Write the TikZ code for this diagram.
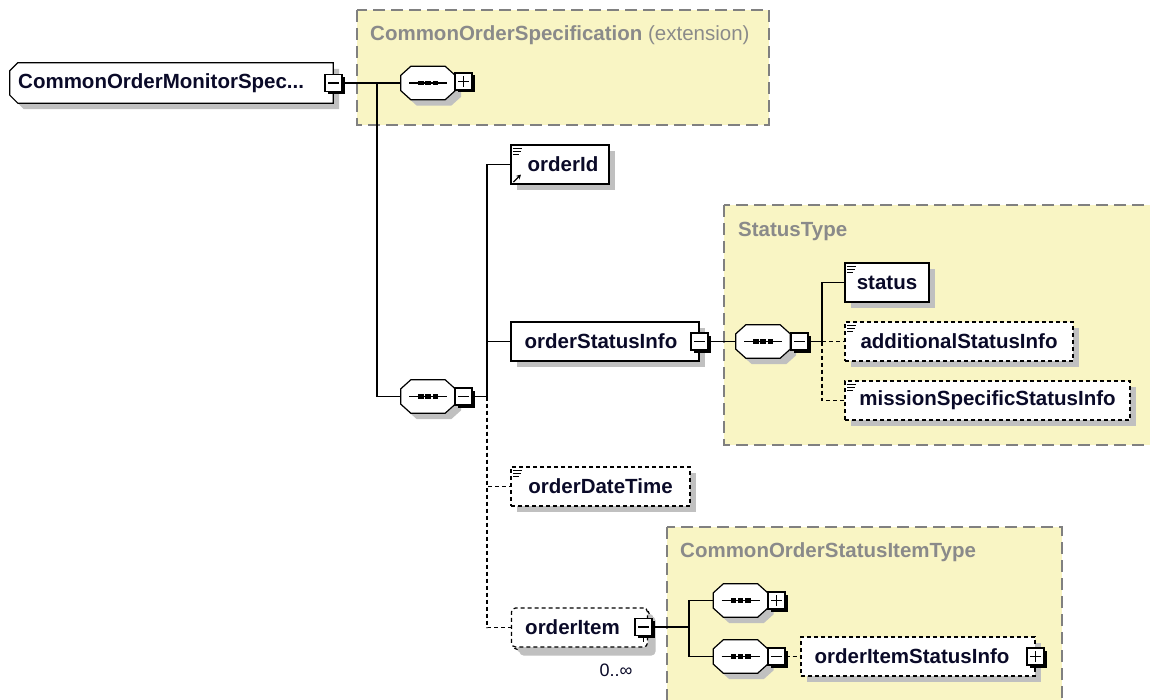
\documentclass[tikz,border=0pt]{standalone}
\usepackage{fontspec}
\setmainfont{Liberation Sans}
\usetikzlibrary{shadows,arrows.meta}
\definecolor{txt}{RGB}{10,10,40}
\definecolor{lbl}{RGB}{138,138,138}
\definecolor{typefill}{RGB}{249,245,196}
\definecolor{shd}{RGB}{192,192,192}
\definecolor{typeline}{RGB}{128,128,128}
\tikzset{
  x=1pt, y=-1pt,
  efont/.style={font=\fontsize{20.5}{24}\selectfont\bfseries},
  lbltext/.style={efont, text=lbl, anchor=west, inner sep=0pt},
  typebox/.style={draw=typeline, fill=typefill, line width=1.5pt, dash pattern=on 12pt off 6pt},
  elem/.style={draw=black, line width=1.2pt, fill=white, minimum height=39pt, inner sep=0pt, efont, text=txt,
    drop shadow={shadow xshift=6pt, shadow yshift=-6pt, fill=shd, opacity=1}},
  optelem/.style={elem, dash pattern=on 4pt off 3pt},
  seqnode/.style={rectangle, draw=none, minimum width=54pt, minimum height=33pt, inner sep=0pt},
  rootnode/.style={rectangle, draw=none, minimum width=323pt, minimum height=40pt, inner sep=0pt, efont, text=txt},
  octline/.style={draw=black, line width=1.2pt, fill=white},
  octshadow/.style={fill=shd},
  pmbox/.style={rectangle, draw=black, line width=1.2pt, fill=white, minimum size=17pt, inner sep=0pt,
    drop shadow={shadow xshift=2.5pt, shadow yshift=-2.5pt, fill=black, opacity=1}},
  minusbox/.style={pmbox, path picture={
      \draw[line width=1.2pt] ([xshift=-5.5pt]path picture bounding box.center) -- ([xshift=5.5pt]path picture bounding box.center);}},
  plusbox/.style={pmbox, path picture={
      \draw[line width=1.2pt] ([xshift=-5.5pt]path picture bounding box.center) -- ([xshift=5.5pt]path picture bounding box.center);
      \draw[line width=1.2pt] ([yshift=-5.5pt]path picture bounding box.center) -- ([yshift=5.5pt]path picture bounding box.center);}},
  conn/.style={line width=1.2pt, draw=black},
  optconn/.style={conn, dash pattern=on 4pt off 3pt},
  iconline/.style={line width=1.1pt},
}
% octagon outline around a node: #1 node, #2 dx, #3 dy
\newcommand{\octpath}[3]{([shift={({#2+10pt},{#3})}]#1.north west) -- ([shift={({#2-10pt},{#3})}]#1.north east)
  -- ([shift={({#2},{#3-9pt})}]#1.north east) -- ([shift={({#2},{#3+9pt})}]#1.south east)
  -- ([shift={({#2-10pt},{#3})}]#1.south east) -- ([shift={({#2+10pt},{#3})}]#1.south west)
  -- ([shift={({#2},{#3+9pt})}]#1.south west) -- ([shift={({#2},{#3-9pt})}]#1.north west) -- cycle}
\newcommand{\seqshape}[1]{%
  \fill[octshadow] \octpath{#1}{6pt}{-6pt};
  \draw[octline] \octpath{#1}{0pt}{0pt};
  \draw[line width=1.4pt] ([xshift=-19pt]#1.center) -- ([xshift=19pt]#1.center);
  \fill ([shift={(-10pt,-2.4pt)}]#1.center) rectangle ([shift={(-4.5pt,2.4pt)}]#1.center);
  \fill ([shift={(-2.7pt,-2.4pt)}]#1.center) rectangle ([shift={(2.7pt,2.4pt)}]#1.center);
  \fill ([shift={(4.5pt,-2.4pt)}]#1.center) rectangle ([shift={(10pt,2.4pt)}]#1.center);}
\newcommand{\rootpath}[3]{([shift={({#2+8pt},{#3})}]#1.north west) -- ([shift={({#2},{#3})}]#1.north east)
  -- ([shift={({#2},{#3})}]#1.south east) -- ([shift={({#2+8pt},{#3})}]#1.south west)
  -- ([shift={({#2},{#3+8pt})}]#1.south west) -- ([shift={({#2},{#3-8pt})}]#1.north west) -- cycle}
\newcommand{\simpleicon}[1]{%
  \draw[iconline] ([shift={(3pt,-4pt)}]#1.north west) -- ++(9pt,0pt);
  \draw[iconline] ([shift={(3pt,-7pt)}]#1.north west) -- ++(8pt,0pt);
  \draw[iconline] ([shift={(3pt,-10pt)}]#1.north west) -- ++(6pt,0pt);}
\begin{document}
\begin{tikzpicture}
\useasboundingbox (0,0) rectangle (1150,700);
\fill[white] (0,0) rectangle (1150,700);

% type boxes
\draw[typebox] (357,10) rectangle (769,125);
\node[lbltext] (extlbl) at (370,35) {CommonOrderSpecification \mdseries(extension)};
\draw[typebox] (724,205) rectangle (1162,445);
\node[lbltext] (stlbl) at (738,231) {StatusType};
\draw[typebox] (667,527) rectangle (1062,712);
\node[lbltext] (cositlbl) at (680,552) {CommonOrderStatusItemType};

% root
\node[rootnode] (root) at (171.5,83) {};
\fill[octshadow] \rootpath{root}{6pt}{-6pt};
\draw[octline] \rootpath{root}{0pt}{0pt};
\node[efont, text=txt, anchor=west, inner sep=0pt] (roottext) at (18,83) {CommonOrderMonitorSpec...};
\node[minusbox] (rootpm) at (333.5,83) {};

% sequences
\node[seqnode] (seq1) at (428,83) {};
\seqshape{seq1}
\node[plusbox] (seq1pm) at (463.5,81.5) {};
\node[seqnode] (seq2) at (428,396.5) {};
\seqshape{seq2}
\node[minusbox] (seq2pm) at (463.5,396.5) {};

% elements of main sequence
\node[elem, minimum width=98pt] (orderId) at (560,164.5) {\hspace*{6pt}orderId};
\simpleicon{orderId}
\draw[line width=1.4pt, -{Stealth[length=4.5pt,width=5pt]}] ([shift={(3pt,2.5pt)}]orderId.south west) -- ++(7.5pt,7.5pt);

\node[elem, minimum width=188pt] (osi) at (605,341.5) {orderStatusInfo\hspace*{8pt}};
\node[minusbox] (osipm) at (699.5,341.5) {};

\node[optelem, minimum width=179pt] (odt) at (600.5,486.5) {orderDateTime};
\simpleicon{odt}

% orderItem (multiple occurrence)
\node[optelem, minimum width=136pt, minimum height=39pt, rounded corners=4pt] (oitemback) at (581.5,630) {};
\node[optelem, minimum width=136pt, minimum height=39pt, rounded corners=4pt, drop shadow={shadow xshift=0pt, shadow yshift=0pt, fill=white, opacity=0}] (oitem) at (579.5,627.5) {orderItem\hspace*{14pt}};
\draw[conn] (643.5,636) -- (643.5,642);
\node[minusbox] (oitempm) at (643.5,627) {};
\node[font=\fontsize{18}{20}\selectfont, text=txt, inner sep=0pt] (occ) at (616,670) {0..∞};

% StatusType content
\node[seqnode] (seq3) at (763,341.5) {};
\seqshape{seq3}
\node[minusbox] (seq3pm) at (799.5,341.5) {};
\node[elem, minimum width=84pt] (status) at (887,282.5) {status};
\simpleicon{status}
\node[optelem, minimum width=228pt] (addl) at (959,341.5) {additionalStatusInfo};
\simpleicon{addl}
\node[optelem, minimum width=285pt] (mission) at (987.5,400.5) {missionSpecificStatusInfo};
\simpleicon{mission}

% CommonOrderStatusItemType content
\node[seqnode] (seq4) at (740.5,600.5) {};
\seqshape{seq4}
\node[plusbox] (seq4pm) at (776.5,600.5) {};
\node[seqnode] (seq5) at (740.5,656.5) {};
\seqshape{seq5}
\node[minusbox] (seq5pm) at (776.5,656.5) {};
\node[optelem, minimum width=234pt] (oisi) at (918,656.5) {orderItemStatusInfo\hspace*{12pt}};
\node[plusbox] (oisipm) at (1035.5,656.5) {};

% connectors
\coordinate (j1) at (377,83);
\coordinate (j2) at (487,396.5);
\coordinate (j3) at (822,341.5);
\coordinate (j4) at (689,627);
\draw[conn] (rootpm.east) -- (seq1.west);
\draw[conn] (j1) |- (seq2.west);
\draw[conn] (seq2pm.east) -- (j2);
\draw[conn] (j2) |- (orderId.west);
\draw[conn] (j2 |- osi.west) -- (osi.west);
\draw[optconn] (j2) |- (odt.west);
\draw[optconn] (j2) |- (oitem.west);
\draw[conn] (osipm.east) -- (seq3.west);
\draw[conn] (seq3pm.east) -- (j3);
\draw[conn] (j3) |- (status.west);
\draw[optconn] (j3) -- (addl.west);
\draw[optconn] (j3) |- (mission.west);
\draw[conn] (oitempm.east) -- (j4);
\draw[conn] (j4) |- (seq4.west);
\draw[conn] (j4) |- (seq5.west);
\draw[optconn] (seq5pm.east) -- (oisi.west);
\end{tikzpicture}
\end{document}
